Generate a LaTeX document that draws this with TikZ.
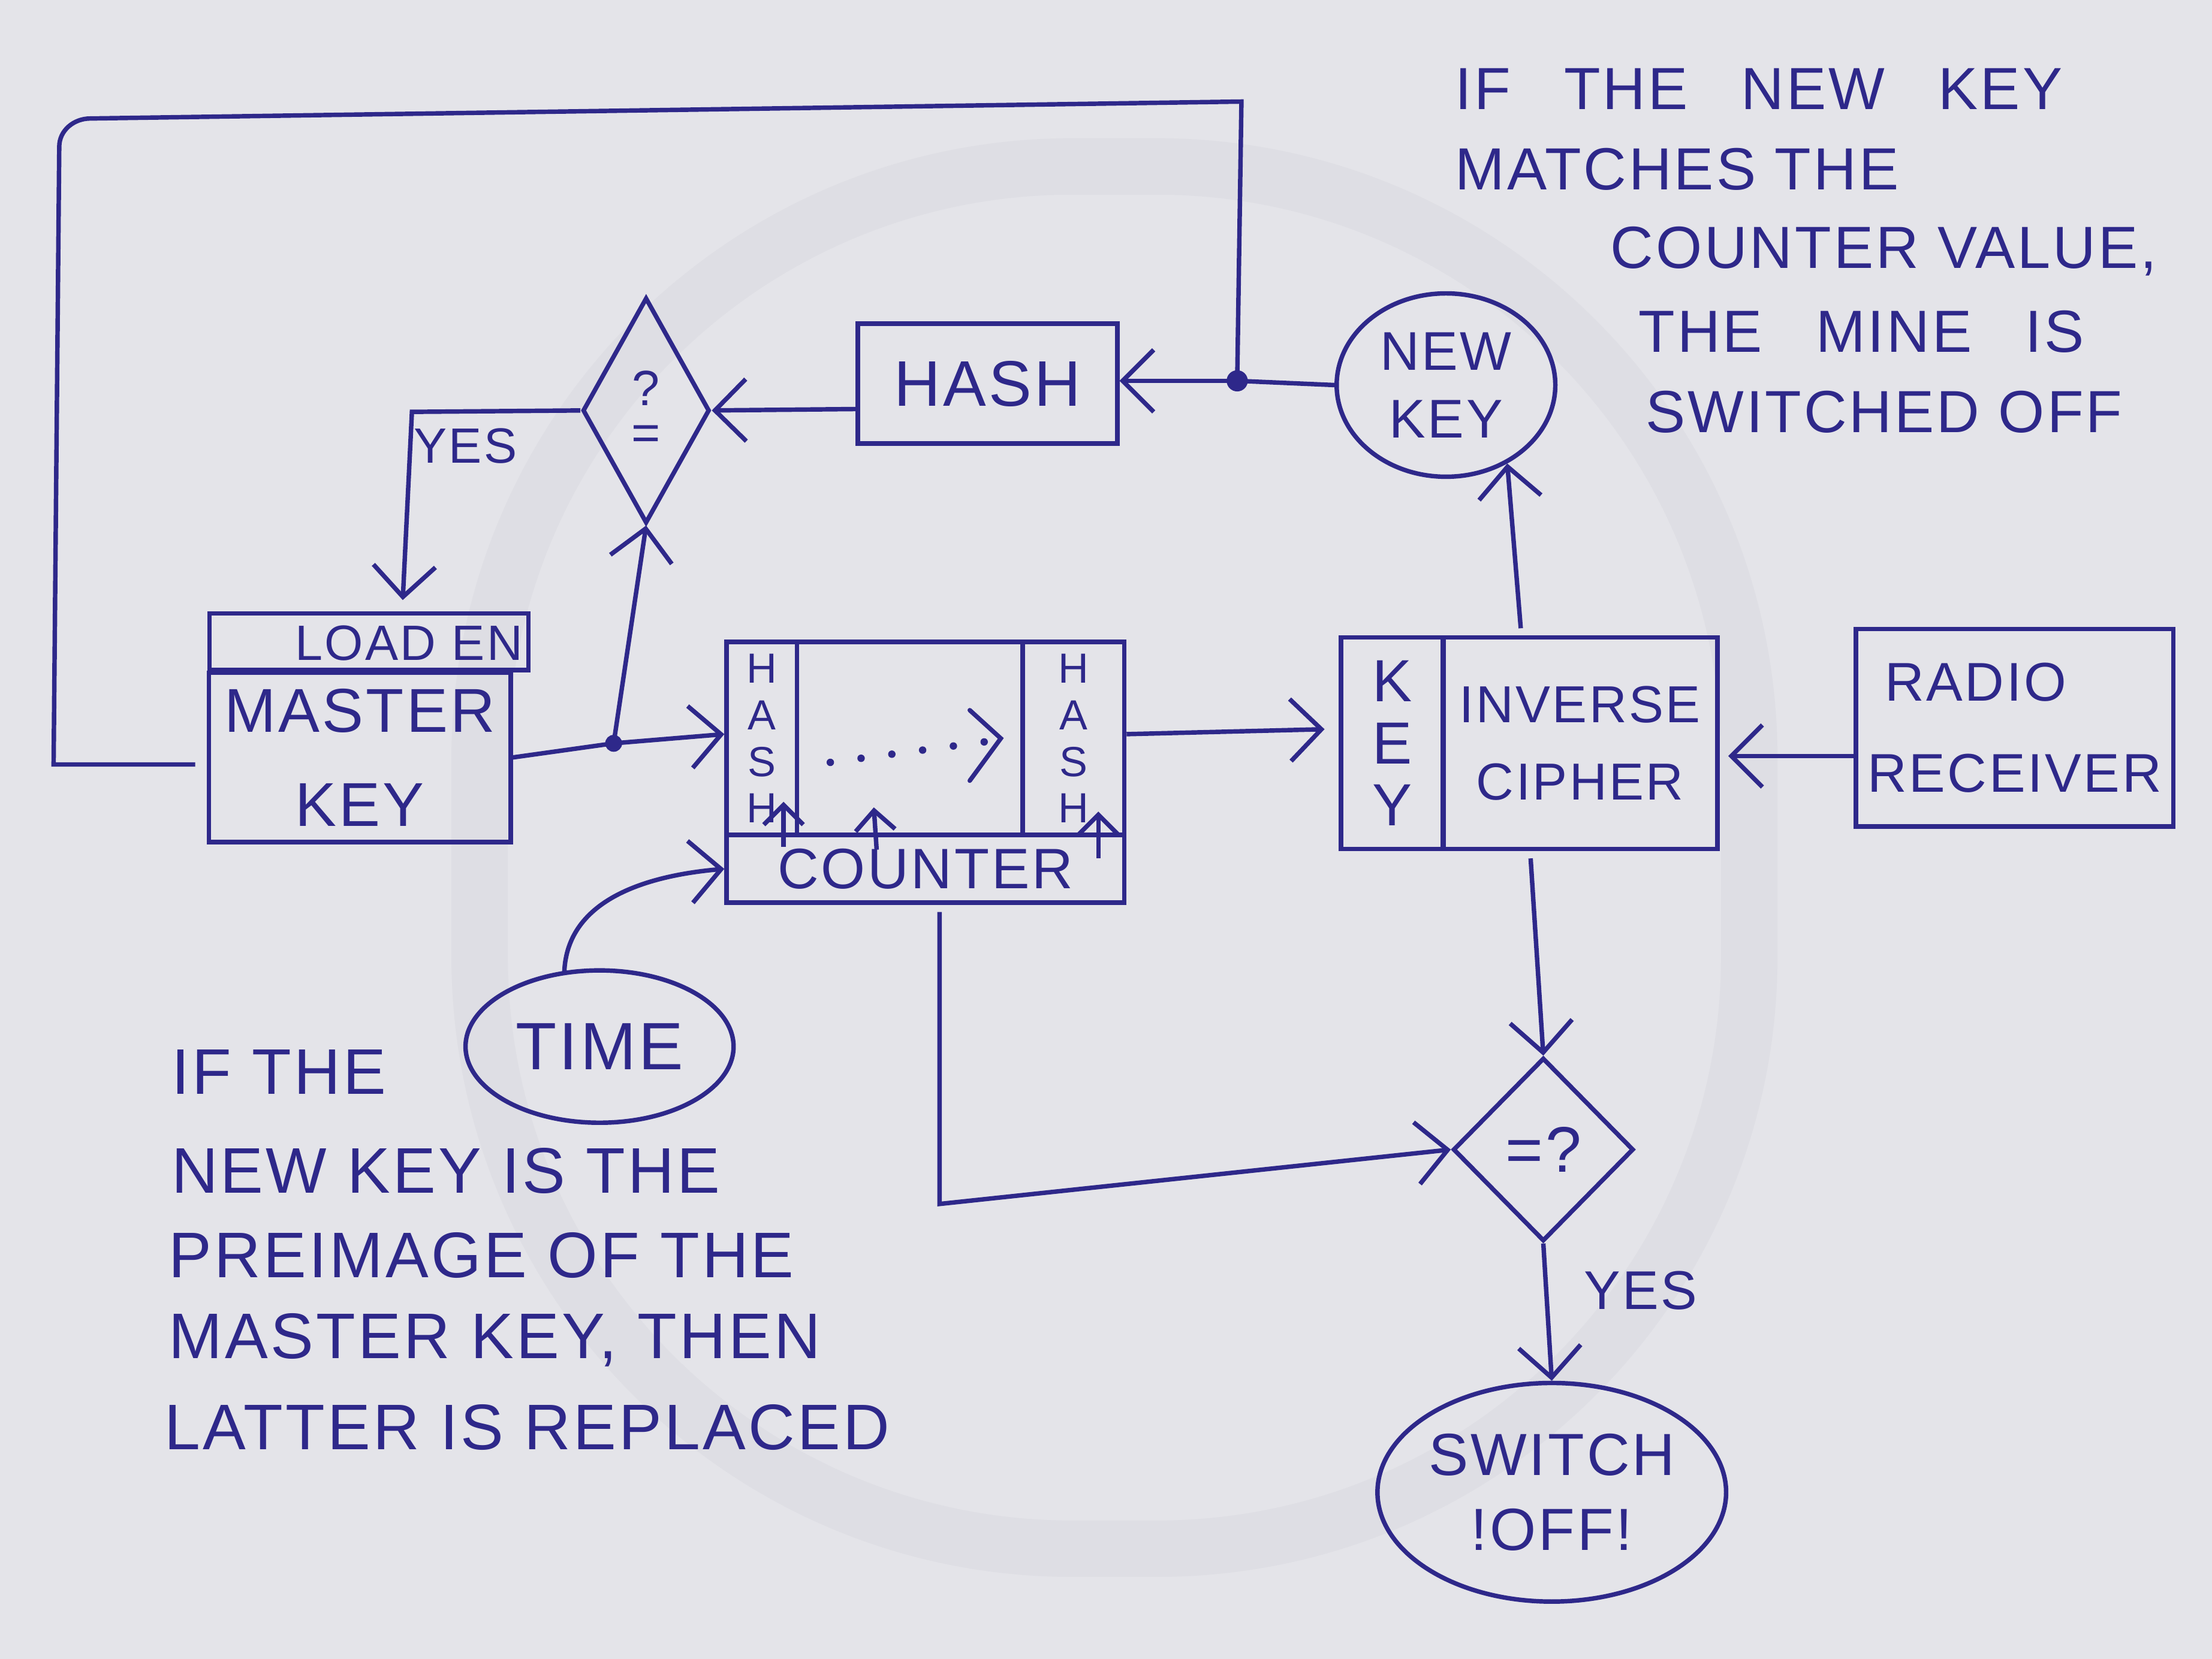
\documentclass[tikz,border=0pt]{standalone}
\usepackage{fontspec}
\newfontfamily\hand[LetterSpace=4]{Liberation Sans}
\usetikzlibrary{arrows.meta,calc,shapes.geometric}
\definecolor{ink}{RGB}{46,40,138}
\definecolor{paper}{RGB}{228,228,233}
\definecolor{wmark}{RGB}{222,222,228}
\newcommand\myfs[2]{\fontsize{#1}{#2}\selectfont}
\newcommand\wsp{\hspace{0.9em}}
\begin{document}
\begin{tikzpicture}[x=0.1mm,y=-0.1mm, line width=0.9pt, color=ink, font=\hand,
  box/.style={draw, rectangle, inner sep=0pt},
  oval/.style={draw, ellipse, inner sep=0pt},
  dia/.style={draw, diamond, inner sep=0pt},
  arr/.style={-{Straight Barb[length=2.2mm,width=4.4mm]}},
  sarr/.style={-{Straight Barb[length=1.4mm,width=2.8mm]}},
  lab/.style={inner sep=0pt, anchor=west, font=\hand\myfs{12}{14}},
  blab/.style={inner sep=0pt, anchor=west, font=\hand\myfs{13}{15}},
  ]
\fill[paper] (0,0) rectangle (1568,1176);
\useasboundingbox (0,0) rectangle (1568,1176);
% faint watermark ring of the paper
\draw[wmark, line width=4mm, rounded corners=42mm] (340,118) rectangle (1240,1098);

% ---------- nodes
\node[box, minimum width=22.6mm, minimum height=4mm] (loaden) at (261.5,455) {};
\node[inner sep=0pt, font=\hand\myfs{10}{11}] (loadtxt) at (290,456) {LOAD EN};
\node[box, minimum width=21.4mm, minimum height=12mm, font=\hand\myfs{12.5}{15}, align=center] (master) at (255,537) {MASTER\\[1.4mm]KEY};

\node[dia, minimum width=9mm, minimum height=16mm, font=\hand\myfs{10}{9}, align=center] (d1) at (458,291) {?\\=};
\node[box, minimum width=18.4mm, minimum height=8.5mm, font=\hand\myfs{13}{15}] (hash) at (700,272) {HASH};
\node[oval, minimum width=15.5mm, minimum height=13mm, font=\hand\myfs{11}{13.6}, align=center] (newkey) at (1025,273) {NEW\\KEY};
\coordinate (j) at (877,270);
\coordinate (j2) at (435,527);

\node[box, minimum width=28.2mm, minimum height=18.5mm] (reg) at (656,547.5) {};
\node[box, minimum width=28.2mm, minimum height=4.8mm, font=\hand\myfs{11.5}{13}] (ctr) at (656,616) {COUNTER};
\node[box, minimum width=5mm, minimum height=13.7mm, font=\hand\myfs{8.5}{9.4}, align=center] (hashl) at (540,523.5) {H\\A\\S\\H};
\node[box, minimum width=7.2mm, minimum height=13.7mm, font=\hand\myfs{8.5}{9.4}, align=center] (hashr) at (761,523.5) {H\\A\\S\\H};

\node[oval, minimum width=19mm, minimum height=10.8mm, font=\hand\myfs{13.5}{15}] (time) at (425,742) {TIME};

\node[box, minimum width=7.3mm, minimum height=15mm, font=\hand\myfs{12}{12.5}, align=center] (keyc) at (987,527) {K\\E\\Y};
\node[box, minimum width=19.5mm, minimum height=15mm, font=\hand\myfs{10.5}{15.6}, align=center] (cipher) at (1120,527) {INVERSE\\CIPHER};
\node[box, minimum width=22.5mm, minimum height=14mm, font=\hand\myfs{11}{18.4}, align=left] (radio) at (1428,516) {\ RADIO\\RECEIVER};

\node[dia, minimum width=12.8mm, minimum height=13mm, font=\hand\myfs{13}{15}] (d2) at (1094,815) {=?};
\node[oval, minimum width=22.2mm, minimum height=15.5mm, font=\hand\myfs{12}{15}, align=center] (off) at (1100,1058) {SWITCH\\!OFF!};

% ---------- connectors
\draw (newkey.west) -- (j);
\draw[arr] (j) -- (hash.east |- j);
\draw (j) -- (880,72) -- (64,84) to[out=180,in=90] (42,104) -- (38,542) -- ($(master.west)+(-8,5)$);
\fill (j) circle (0.75mm);

\draw[arr] ($(hash.west)+(0,18)$) -- (d1.east);
\draw[arr] (d1.west) -- (292,292) -- ($(loaden.north)+(24,-8)$);
\node[inner sep=0pt, font=\hand\myfs{10}{12}] (yes1) at (330,316) {YES};

\draw (master.east) -- (j2);
\draw[arr] (j2) -- ($(reg.west)+(0,-27)$);
\draw[arr] (j2) -- (d1.south);
\fill (j2) circle (0.6mm);

% inside the register
\draw[line width=1.5pt, line cap=round, dash pattern=on 0pt off 2.2mm] ($(hashl.east)+(22,17)$) -- ($(hashr.west)+(-22,2)$);
\draw[line cap=round] ($(hashr.west)+(-36,-20)$) -- ($(hashr.west)+(-14,0)$) -- ($(hashr.west)+(-36,30)$);
\draw[sarr] ($(ctr.north west)+(42,10)$) -- ($(ctr.north west)+(42,-22)$);
\draw[sarr] ($(ctr.north west)+(108,12)$) -- ($(ctr.north west)+(106,-18)$);
\draw[sarr] ($(ctr.north east)+(-20,18)$) -- ($(ctr.north east)+(-20,-15)$);

\draw[arr] ($(time.north)+(-25,3)$) to[out=88,in=185] (ctr.west);
\draw[arr] ($(ctr.south)+(10,5)$) -- ++(0,207) -- (d2.west);
\draw[arr] ($(reg.east)+(0,-27)$) -- ($(keyc.west)+(-10,-10)$);
\draw[arr] ($(radio.west)+(0,20)$) -- ($(cipher.east)+(6,9)$);
\draw[arr] ($(cipher.north)+(-42,-5)$) -- (newkey.-52);
\draw[arr] ($(cipher.south)+(-35,5)$) -- (d2.north);
\draw[arr] (d2.south) -- (off.north);
\node[inner sep=0pt, font=\hand\myfs{11}{13}] (yes2) at (1163,915) {YES};

% ---------- notes
\node[lab] (t1) at (1030,63) {IF\wsp THE\wsp NEW\wsp KEY};
\node[lab] (t2) at (1030,120) {MATCHES THE};
\node[lab] (t3) at (1140,178) {COUNTER VALUE,};
\node[lab] (t4) at (1160,235) {THE\wsp MINE\wsp IS};
\node[lab] (t5) at (1165,292) {SWITCHED OFF};

\node[blab] (b1) at (120,760) {IF THE};
\node[blab] (b2) at (120,830) {NEW KEY IS THE};
\node[blab] (b3) at (118,890) {PREIMAGE OF THE};
\node[blab] (b4) at (118,950) {MASTER KEY, THEN};
\node[blab] (b5) at (115,1012) {LATTER IS REPLACED};
\end{tikzpicture}
\end{document}
